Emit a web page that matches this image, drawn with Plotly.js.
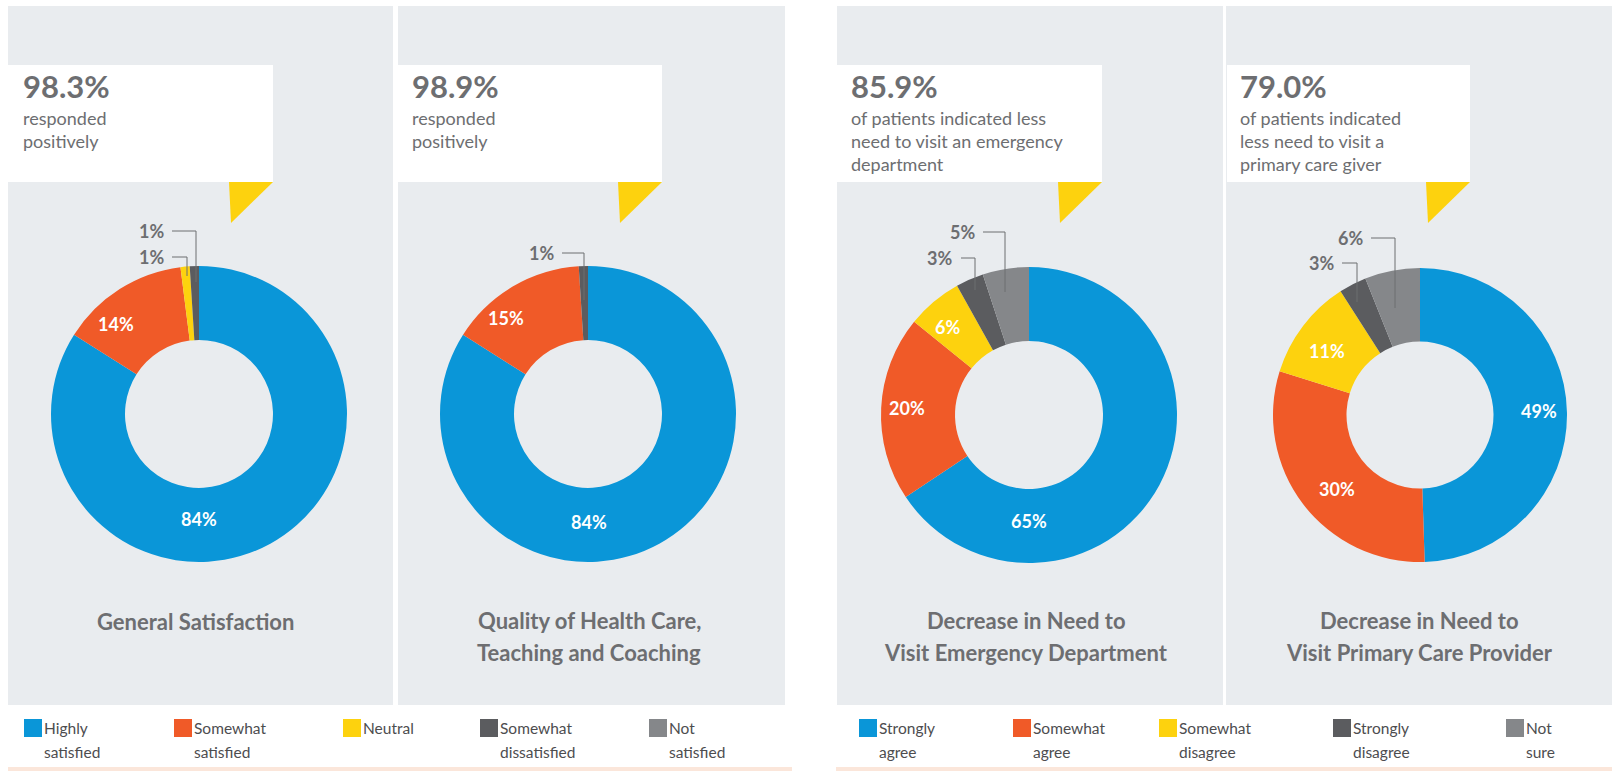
<!DOCTYPE html>
<html>
<head>
<meta charset="utf-8">
<script src="https://cdn.plot.ly/plotly-3.0.1.min.js"></script>
<style>
html,body{margin:0;padding:0;background:#ffffff;}
#chart{width:1612px;height:771px;}
</style>
</head>
<body>
<div id="chart"></div>
<script>
// ---------------- DATA ----------------
const satisfactionLabels = ['Highly satisfied', 'Somewhat satisfied', 'Neutral', 'Somewhat dissatisfied', 'Not satisfied'];
const agreementLabels = ['Strongly agree', 'Somewhat agree', 'Somewhat disagree', 'Strongly disagree', 'Not sure'];

const generalSatisfaction = [84, 14, 1, 1, 0];
const qualityOfCare = [84, 15, 0, 1, 0];
const emergencyDept = [65, 20, 6, 3, 5];
const primaryCare = [49, 30, 11, 3, 6];

const headlineValues = ['98.3%', '98.9%', '85.9%', '79.0%'];
const headlineTexts = [
  ['responded', 'positively'],
  ['responded', 'positively'],
  ['of patients indicated less', 'need to visit an emergency', 'department'],
  ['of patients indicated', 'less need to visit a', 'primary care giver']
];
const chartTitles = [
  ['General Satisfaction'],
  ['Quality of Health Care,', 'Teaching and Coaching'],
  ['Decrease in Need to', 'Visit Emergency Department'],
  ['Decrease in Need to', 'Visit Primary Care Provider']
];
const satisfactionLegend = [['Highly', 'satisfied'], ['Somewhat', 'satisfied'], ['Neutral'], ['Somewhat', 'dissatisfied'], ['Not', 'satisfied']];
const agreementLegend = [['Strongly', 'agree'], ['Somewhat', 'agree'], ['Somewhat', 'disagree'], ['Strongly', 'disagree'], ['Not', 'sure']];

// ---------------- STYLE / LAYOUT ----------------
const W = 1612, H = 771;
const X = p => p / W;
const Y = p => 1 - p / H;

const sliceColors = ['#0a96d8', '#f05a28', '#fdd20e', '#5b5c5f', '#85878a'];
const panelColor = '#e9ecef';
const textGray = '#6d6e71';
const FONT = 'Lato, "Open Sans", sans-serif';

const seriesList = [generalSatisfaction, qualityOfCare, emergencyDept, primaryCare];
const labelSets = [satisfactionLabels, satisfactionLabels, agreementLabels, agreementLabels];

const panels = [
  {x0: 8, x1: 393, box: [8, 273], cx: 199, cy: 414, r: 148, textX: 22},
  {x0: 398, x1: 785, box: [398, 662], cx: 588, cy: 414, r: 148, textX: 411},
  {x0: 837, x1: 1223, box: [837, 1102], cx: 1029, cy: 415, r: 148, textX: 850},
  {x0: 1226, x1: 1612, box: [1227, 1470], cx: 1420, cy: 415, r: 147, textX: 1239}
];
const titleCenters = [195, 589, 1026, 1419];

// label placements: [slice index, x, y]
const insideLabels = [
  [[0, 199, 519], [1, 116, 324]],
  [[0, 589, 522], [1, 506, 318]],
  [[0, 1029, 521], [1, 907, 408], [2, 947, 327]],
  [[0, 1539, 411], [1, 1337, 489], [2, 1327, 351]]
];
// outside: [slice index, text center x, y, vertical line x, line end y]
const outsideLabels = [
  [[3, 151, 231, 196, 282], [2, 151, 257, 187, 276]],
  [[3, 541, 253, 584, 300]],
  [[4, 962, 232, 1005, 292], [3, 940, 258, 975, 290]],
  [[4, 1350, 238, 1395, 308], [3, 1321, 263, 1357, 302]]
];

const legendSquares1 = [24, 174, 343, 480, 649];
const legendSquares2 = [859, 1013, 1159, 1333, 1506];

// ---------------- BUILD ----------------
const traces = [];
const shapes = [];
const annotations = [];

function rect(x0, y0, x1, y1, color, layer) {
  shapes.push({type: 'rect', xref: 'paper', yref: 'paper', x0: X(x0), x1: X(x1), y0: Y(y1), y1: Y(y0),
    fillcolor: color, line: {width: 0}, layer: layer || 'below'});
}
function path(pts, opts) {
  const d = pts.map((p, i) => (i ? 'L' : 'M') + X(p[0]) + ',' + Y(p[1])).join(' ') + (opts.close ? ' Z' : '');
  shapes.push(Object.assign({type: 'path', xref: 'paper', yref: 'paper', path: d, layer: opts.layer || 'below'}, opts.style));
}
function text(t, x, y, size, color, weight, xanchor) {
  annotations.push({text: t, x: X(x), y: Y(y), xref: 'paper', yref: 'paper', showarrow: false,
    xanchor: xanchor || 'center', yanchor: 'middle', borderpad: 0,
    font: {family: FONT, size: size, color: color, weight: weight || 400}});
}

panels.forEach((p, i) => {
  rect(p.x0, 6, p.x1, 705, panelColor);
  rect(p.box[0], 65, p.box[1], 182, '#ffffff');
  path([[p.box[1] - 44, 182], [p.box[1], 182], [p.box[1] - 42, 223]],
       {close: true, style: {fillcolor: '#fdd20e', line: {width: 0}}});

  traces.push({
    type: 'pie',
    values: seriesList[i],
    labels: labelSets[i],
    marker: {colors: sliceColors, line: {width: 0}},
    hole: 0.5,
    sort: false,
    direction: 'clockwise',
    rotation: 0,
    textinfo: 'none',
    hoverinfo: 'label+percent',
    showlegend: false,
    domain: {x: [X(p.cx - p.r), X(p.cx + p.r)], y: [Y(p.cy + p.r), Y(p.cy - p.r)]}
  });

  text('<b>' + headlineValues[i] + '</b>', p.textX, 86, 31, textGray, 700, 'left');
  headlineTexts[i].forEach((line, k) => text(line, p.textX, 118 + k * 23, 18, textGray, 400, 'left'));

  const tl = chartTitles[i];
  tl.forEach((line, k) => text(line, titleCenters[i], (tl.length === 1 ? 621 : 620) + k * 32, 22, textGray, 700, 'center'));

  insideLabels[i].forEach(l => text(seriesList[i][l[0]] + '%', l[1], l[2], 18, '#ffffff', 700, 'center'));
  outsideLabels[i].forEach(l => {
    text(seriesList[i][l[0]] + '%', l[1], l[2], 18, textGray, 700, 'center');
    path([[l[1] + 21, l[2]], [l[3], l[2]], [l[3], l[4]]],
         {layer: 'above', style: {line: {color: '#6d6e71', width: 1}}});
  });
});

function legend(squares, entries) {
  squares.forEach((sx, j) => {
    rect(sx, 719, sx + 18, 737, sliceColors[j]);
    entries[j].forEach((line, k) => text(line, sx + 19, 728 + k * 24, 15.5, '#4d4d4f', 400, 'left'));
  });
}
legend(legendSquares1, satisfactionLegend);
legend(legendSquares2, agreementLegend);

rect(8, 767, 792, 771, '#fbe6da');
rect(836, 767, 1612, 771, '#fbe6da');

const layout = {
  width: W, height: H,
  margin: {l: 0, r: 0, t: 0, b: 0},
  paper_bgcolor: '#ffffff',
  showlegend: false,
  shapes: shapes,
  annotations: annotations,
  font: {family: FONT}
};

Plotly.newPlot('chart', traces, layout, {displayModeBar: false});
</script>
</body>
</html>
